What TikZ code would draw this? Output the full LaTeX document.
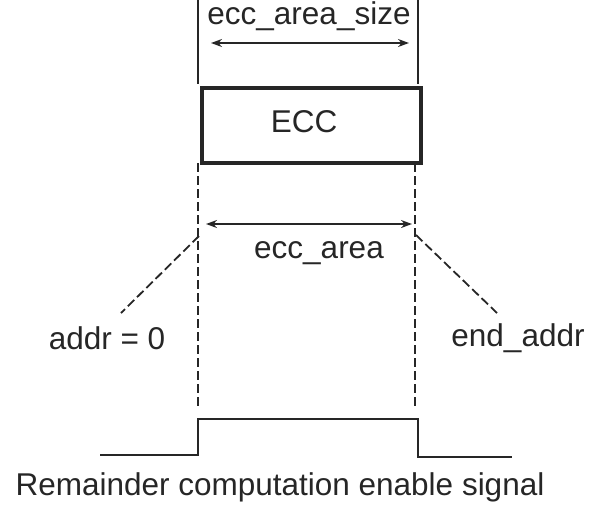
\documentclass[tikz,border=0pt]{standalone}
\usepackage{fontspec}
\setmainfont{Liberation Sans}
\usetikzlibrary{arrows.meta}
\begin{document}
\begin{tikzpicture}[x=1pt,y=-1pt,
  lbl/.style={font=\fontsize{31.5}{36}\selectfont, text=black!85, inner sep=0pt},
  thin/.style={line width=1.8pt, draw=black!85},
  dsh/.style={line width=1.8pt, draw=black!85, dash pattern=on 9pt off 4pt},
  dim/.style={line width=1.8pt, draw=black!85, {Stealth[length=11pt,width=8pt]}-{Stealth[length=11pt,width=8pt]}}]
\useasboundingbox (0,0) rectangle (589,507);
% box
\node[draw=black!85, line width=4.5pt, minimum width=219pt, minimum height=75pt, inner sep=0pt, anchor=north west] (ecc) at (199.5,85.5) {};
\node[lbl] (ecct) at (304,122) {ECC};
% top lines
\coordinate (tl) at (198,0);
\coordinate (tr) at (418,0);
\coordinate (tlb) at (198,84);
\coordinate (trb) at (418,84);
\draw[thin] (tl) -- (tlb);
\draw[thin] (tr) -- (trb);
\coordinate (sa) at (211,43);
\coordinate (sb) at (409,43);
\draw[dim] (sa) -- (sb);
\node[lbl] (size) at (309,16) {ecc\_area\_size};
% dashed lines
\coordinate (dl0) at (198,163);
\coordinate (dl1) at (198,406);
\coordinate (dr0) at (415,163);
\coordinate (dr1) at (415,406);
\draw[dsh] (dl0) -- (dl1);
\draw[dsh] (dr0) -- (dr1);
\coordinate (kl) at (199,236);
\coordinate (kr) at (416,235);
\coordinate (el) at (121,313);
\coordinate (er) at (497,313);
\draw[dsh] (kl) -- (el);
\draw[dsh] (kr) -- (er);
\coordinate (aa) at (206,224);
\coordinate (ab) at (412,224);
\draw[dim] (aa) -- (ab);
\node[lbl] (area) at (319,253) {ecc\_area};
\node[lbl] (addr) at (107,338) {addr = 0};
\node[lbl] (end) at (518,338) {end\_addr};
% signal
\coordinate (s0) at (100,455);
\coordinate (s1) at (198,455);
\coordinate (s2) at (198,419);
\coordinate (s3) at (418,419);
\coordinate (s4) at (418,457);
\coordinate (s5) at (512,457);
\draw[thin] (s0) -- (s1) -- (s2) -- (s3) -- (s4) -- (s5);
\node[lbl] (sig) at (280,487) {Remainder computation enable signal};
\end{tikzpicture}
\end{document}
